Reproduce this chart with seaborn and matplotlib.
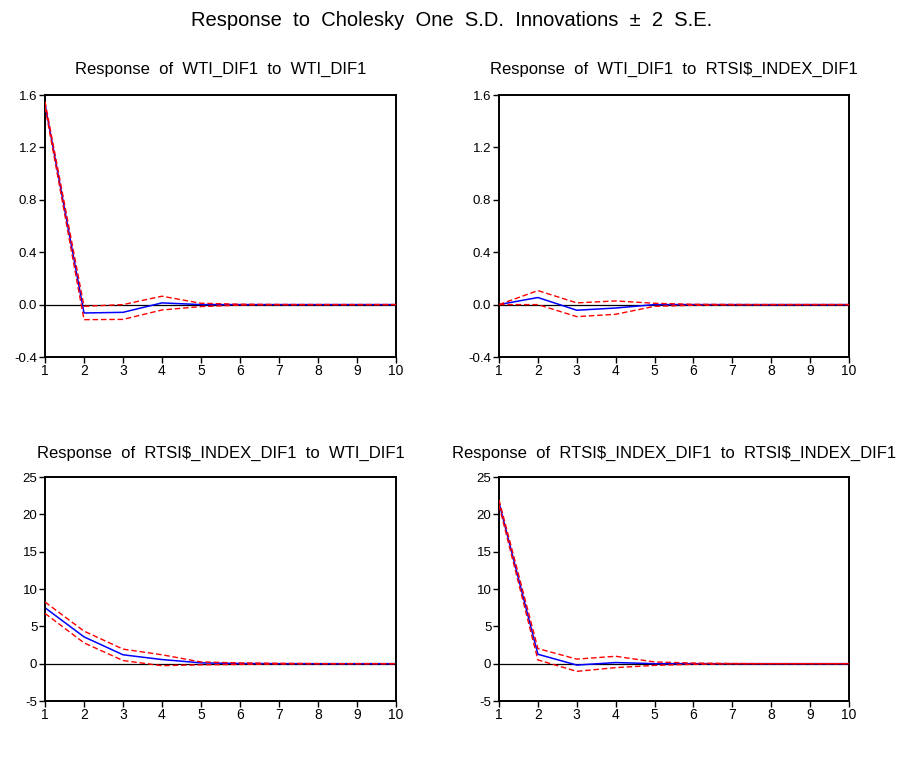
import numpy as np
import pandas as pd
import matplotlib
matplotlib.use("Agg")
import matplotlib.pyplot as plt
import seaborn as sns

sns.set_theme(style="white")
plt.rcParams['font.family'] = ['Liberation Sans', 'DejaVu Sans']

periods = [1, 2, 3, 4, 5, 6, 7, 8, 9, 10]

# Response of WTI_DIF1 to WTI_DIF1
wti_wti = [1.53, -0.064, -0.059, 0.013, 0.0, 0.0, 0.0, 0.0, 0.0, 0.0]
wti_wti_hi = [1.55, -0.013, 0.0, 0.064, 0.01, 0.003, 0.001, 0.0, 0.0, 0.0]
wti_wti_lo = [1.51, -0.115, -0.113, -0.041, -0.015, -0.004, -0.001, 0.0, 0.0, 0.0]

# Response of WTI_DIF1 to RTSI$_INDEX_DIF1
wti_rtsi = [0.0, 0.054, -0.043, -0.026, 0.0, 0.0, 0.0, 0.0, 0.0, 0.0]
wti_rtsi_hi = [0.0, 0.107, 0.013, 0.028, 0.01, 0.002, 0.001, 0.0, 0.0, 0.0]
wti_rtsi_lo = [0.0, 0.0, -0.092, -0.074, -0.013, -0.005, -0.002, 0.0, 0.0, 0.0]

# Response of RTSI$_INDEX_DIF1 to WTI_DIF1
rtsi_wti = [7.49, 3.59, 1.19, 0.55, 0.11, 0.02, 0.0, 0.0, 0.0, 0.0]
rtsi_wti_hi = [8.26, 4.36, 1.95, 1.19, 0.23, 0.1, 0.05, 0.01, 0.0, 0.0]
rtsi_wti_lo = [6.73, 2.79, 0.42, -0.27, -0.15, -0.1, -0.05, -0.01, 0.0, 0.0]

# Response of RTSI$_INDEX_DIF1 to RTSI$_INDEX_DIF1
rtsi_rtsi = [21.57, 1.26, -0.19, 0.15, 0.0, 0.0, 0.0, 0.0, 0.0, 0.0]
rtsi_rtsi_hi = [21.95, 2.02, 0.61, 0.99, 0.23, 0.08, 0.02, 0.0, 0.0, 0.0]
rtsi_rtsi_lo = [21.2, 0.5, -1.03, -0.53, -0.23, -0.08, -0.02, 0.0, 0.0, 0.0]

titles = [
    "Response  of  WTI_DIF1  to  WTI_DIF1",
    "Response  of  WTI_DIF1  to  RTSI\\$_INDEX_DIF1",
    "Response  of  RTSI\\$_INDEX_DIF1  to  WTI_DIF1",
    "Response  of  RTSI\\$_INDEX_DIF1  to  RTSI\\$_INDEX_DIF1",
]
panels = [
    (wti_wti, wti_wti_hi, wti_wti_lo),
    (wti_rtsi, wti_rtsi_hi, wti_rtsi_lo),
    (rtsi_wti, rtsi_wti_hi, rtsi_wti_lo),
    (rtsi_rtsi, rtsi_rtsi_hi, rtsi_rtsi_lo),
]
top_yticks = [-0.4, 0.0, 0.4, 0.8, 1.2, 1.6]
top_ylabels = ["-0.4", "0.0", "0.4", "0.8", "1.2", "1.6"]
bot_yticks = [-5, 0, 5, 10, 15, 20, 25]
bot_ylabels = ["-5", "0", "5", "10", "15", "20", "25"]

W, H = 904, 762
fig = plt.figure(figsize=(W / 100, H / 100), dpi=100)

def rect(l, t, r, b):
    return [l / W, 1 - b / H, (r - l) / W, (b - t) / H]

rects = [rect(45, 95, 396, 357), rect(499, 95, 849, 357),
         rect(45, 477, 396, 701), rect(499, 477, 849, 701)]

for i, (r, (resp, hi, lo), title) in enumerate(zip(rects, panels, titles)):
    ax = fig.add_axes(r)
    ax.axhline(0, color="black", lw=0.9, zorder=1)
    df = pd.DataFrame({"period": periods, "resp": resp, "hi": hi, "lo": lo})
    sns.lineplot(data=df, x="period", y="hi", ax=ax, color="#ff0000", lw=1.0,
                 linestyle=(0, (4, 2)), zorder=3)
    sns.lineplot(data=df, x="period", y="lo", ax=ax, color="#ff0000", lw=1.0,
                 linestyle=(0, (4, 2)), zorder=3)
    sns.lineplot(data=df, x="period", y="resp", ax=ax, color="#0000ff", lw=1.1,
                 zorder=2)
    ax.set_xlim(1, 10)
    ax.set_xticks(periods)
    ax.set_xticklabels([str(p) for p in periods])
    if i < 2:
        ax.set_ylim(-0.4, 1.6)
        ax.set_yticks(top_yticks)
        ax.set_yticklabels(top_ylabels)
    else:
        ax.set_ylim(-5, 25)
        ax.set_yticks(bot_yticks)
        ax.set_yticklabels(bot_ylabels)
    ax.set_xlabel("")
    ax.set_ylabel("")
    for s in ax.spines.values():
        s.set_color("black")
        s.set_linewidth(1.4)
    ax.tick_params(axis="both", direction="out", length=4, width=1.0,
                   colors="black", pad=1.5,
                   bottom=True, left=True, top=False, right=False)
    ax.tick_params(axis="y", labelsize=9.5)
    ax.tick_params(axis="x", labelsize=10, pad=1)
    ax.set_title(title, fontsize=12, pad=15 if i < 2 else 13.5, color="black")

fig.text(0.5, 1 - 21 / H, "Response  to  Cholesky  One  S.D.  Innovations  \u00b1  2  S.E.",
         ha="center", va="center", fontsize=14.5, color="black")

fig.savefig("out.png", dpi=100)
